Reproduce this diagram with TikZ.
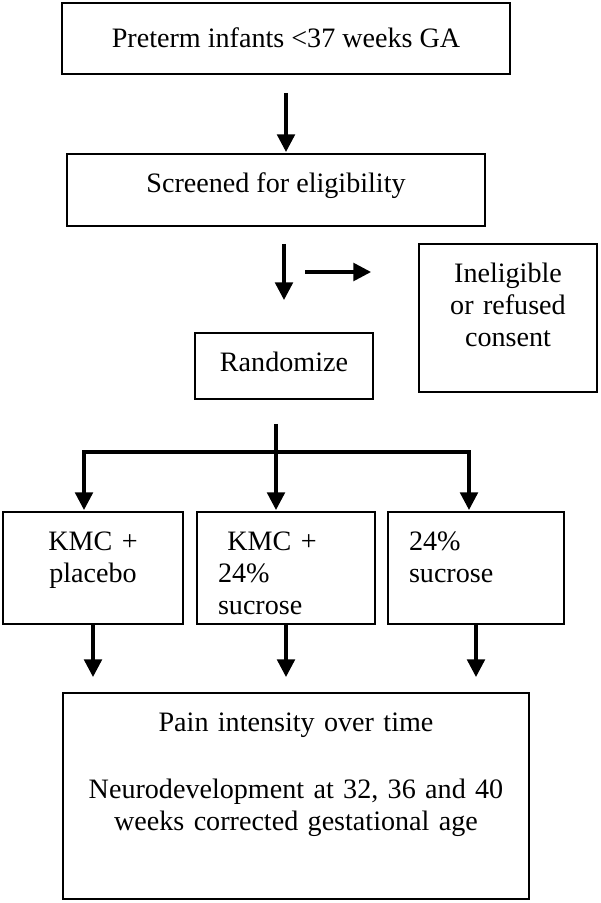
\documentclass[tikz,border=0pt]{standalone}
\usepackage{fontspec}
\setmainfont{Liberation Serif}
\usetikzlibrary{arrows.meta}
\usetikzlibrary{positioning}
\usetikzlibrary{calc}

\tikzset{
  box/.style={draw, line width=1.1pt, anchor=north, inner ysep=0pt, inner xsep=0pt,
    text height=0.78cm, font=\fontsize{16}{18}\selectfont},
  arr/.style={line width=1.9pt, -{Triangle[length=10pt,width=10pt]}},
}

\begin{document}
\begin{tikzpicture}[x=0.02cm, y=-0.02cm]
            \useasboundingbox (0,0) rectangle (600,903); % page frame
            \node[box, minimum width=8.96cm, text height=0.9cm, text depth=0.52cm] (pre) at (286,2) {Preterm infants <37 weeks GA};
            \node[box, minimum width=8.36cm, text depth=0.66cm]            (scr)  at (276,153) {Screened for eligibility};
            \node[box, text width=3.56cm, align=center, text depth=2.18cm] (inel) at (508,243) {Ineligible\\or refused\\consent};
            \node[box, minimum width=3.56cm, text depth=0.54cm]            (rand) at (284,332) {Randomize};
            \node[box, text width=3.6cm, align=center, text depth=1.46cm]  (kp)   at (93,511)  {KMC +\\placebo};
            \node[box, text width=2.72cm, inner xsep=0.42cm, align=left, text depth=1.46cm] (ks) at (286,511) {\ KMC +\\24\%\\sucrose};
            \node[box, text width=2.68cm, inner xsep=0.42cm, align=left, text depth=1.46cm] (su) at (476,511) {24\%\\sucrose};
            \node[box, text width=9.32cm, align=center, text depth=3.34cm] (out)  at (296,692) {Pain intensity over time\\[20pt]Neurodevelopment at 32, 36 and 40\\weeks corrected gestational age};
            \coordinate (gate) at (305,272);
            \coordinate (fork) at (276,452);
            \draw[arr, shorten <=0.36cm, shorten >=0.02cm] (pre.south) -- (pre.south |- scr.north);
            \draw[arr, shorten <=0.34cm, shorten >=0.64cm] (rand.north |- scr.south) -- (rand.north);
            \draw[arr, shorten >=0.94cm] (gate) -- (gate -| inel.west);
            \draw[line width=1.9pt, shorten <=0.48cm] (fork |- rand.south) -- (fork);
            \draw[arr, shorten >=0.02cm] (fork) -| ([xshift=-0.18cm]kp.north);
            \draw[arr, shorten >=0.02cm] (fork) -- (fork |- ks.north);
            \draw[arr, shorten >=0.02cm] (fork) -| ([xshift=-0.14cm]su.north);
            \foreach \n in {kp,ks,su}
              \draw[arr, shorten >=0.3cm] (\n.south) -- (\n.south |- out.north);
        \end{tikzpicture}
\end{document}
